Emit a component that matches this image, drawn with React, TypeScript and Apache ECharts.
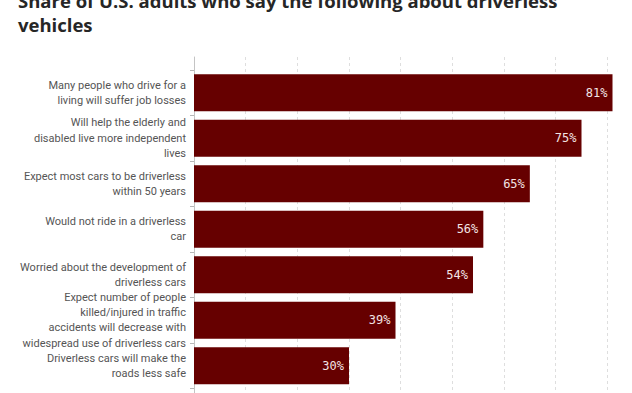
import React, { useEffect, useRef } from "react";
import * as echarts from "echarts";

const titleText = "Share of U.S. adults who say the following about driverless\nvehicles";

const categories: string[][] = [
  ["Many people who drive for a", "living will suffer job losses"],
  ["Will help the elderly and", "disabled live more independent", "lives"],
  ["Expect most cars to be driverless", "within 50 years"],
  ["Would not ride in a driverless", "car"],
  ["Worried about the development of", "driverless cars"],
  ["Expect number of people", "killed/injured in traffic", "accidents will decrease with", "widespread use of driverless cars"],
  ["Driverless cars will make the", "roads less safe"],
];

const values: number[] = [81, 75, 65, 56, 54, 39, 30];

const axisMin = 0;
const axisMax = 90;
const axisInterval = 10;

export default function App() {
  const ref = useRef<HTMLDivElement>(null);
  useEffect(() => {
    if (!ref.current) return;
    const chart = echarts.init(ref.current, undefined, { renderer: "svg" });
    const left = 194;
    const right = 0;
    chart.setOption({
      animation: false,
      backgroundColor: "#ffffff",
      title: {
        text: titleText,
        left: 13,
        top: -17,
        textStyle: {
          fontFamily: "Open Sans",
          fontWeight: 700,
          fontSize: 18.5,
          lineHeight: 24,
          color: "#262626",
        },
      },
      grid: [
        { left, right, top: 70, bottom: 4.5, containLabel: false },
        { left, right, top: 57, bottom: -10, containLabel: false },
      ],
      xAxis: [
        { gridIndex: 0, type: "value", min: axisMin, max: axisMax, interval: axisInterval, show: false },
        {
          gridIndex: 1,
          type: "value",
          min: axisMin,
          max: axisMax,
          interval: axisInterval,
          axisLine: { show: false },
          axisTick: { show: false },
          axisLabel: { show: false },
          splitLine: { show: true, lineStyle: { color: "#dedede", type: [3, 3], width: 1 } },
        },
      ],
      yAxis: [
        {
          gridIndex: 0,
          type: "category",
          inverse: true,
          data: categories.map((c) => c.join("\n")),
          axisLine: { show: false },
          axisTick: { show: true, length: 4, lineStyle: { color: "#b8b8b8" } },
          axisLabel: {
            interval: 0,
            margin: 8,
            fontFamily: "Roboto",
            fontSize: 11,
            lineHeight: 15.3,
            color: "#555555",
            align: "right",
          },
          splitLine: { show: false },
        },
        {
          gridIndex: 1,
          type: "value",
          min: 0,
          max: 1,
          axisLine: { show: true, lineStyle: { color: "#c4c4c4", width: 1 } },
          axisTick: { show: false },
          axisLabel: { show: false },
          splitLine: { show: false },
        },
      ],
      series: [
        {
          type: "bar",
          xAxisIndex: 0,
          yAxisIndex: 0,
          data: values,
          barCategoryGap: "19%",
          itemStyle: { color: "#660000" },
          z: 5,
          label: {
            show: true,
            position: "insideRight",
            distance: 5,
            formatter: "{c}%",
            fontFamily: "DejaVu Sans Mono",
            fontSize: 12,
            color: "#f3e4e4",
          },
        },
      ],
    });
    return () => chart.dispose();
  }, []);
  return (
    <div style={{ position: "absolute", left: 0, top: 0, width: 632, height: 393, overflow: "hidden" }}>
      <div ref={ref} style={{ width: 659, height: 393 }} />
    </div>
  );
}
